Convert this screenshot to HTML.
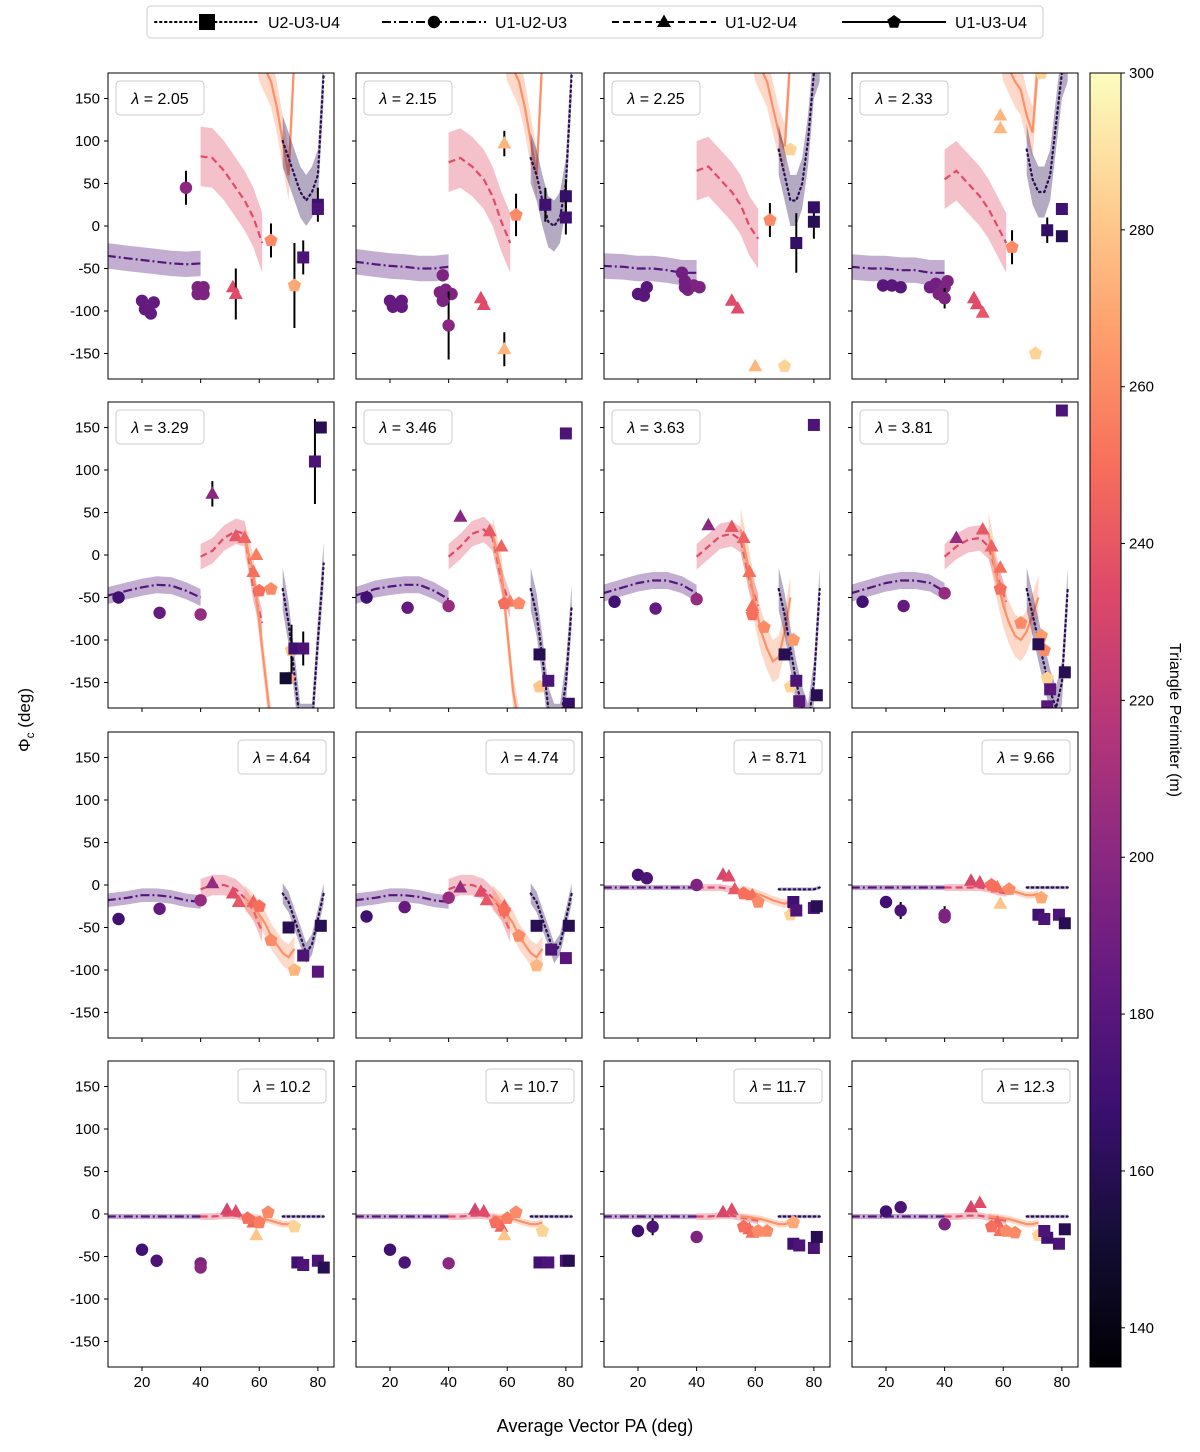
<!DOCTYPE html>
<html><head><meta charset="utf-8"><style>
body{margin:0;background:#fff}
svg{display:block;font-family:"Liberation Sans","DejaVu Sans",sans-serif}
</style></head><body>
<svg id="fig" width="1200" height="1452" viewBox="0 0 1200 1452" xmlns="http://www.w3.org/2000/svg"></svg>
<script>
const lambdas=["2.05","2.15","2.25","2.33","3.29","3.46","3.63","3.81","4.64","4.74","8.71","9.66","10.2","10.7","11.7","12.3"];
// markers: [PA, phi, perimeter, type(s=square,c=circle,t=triangle,p=pentagon), err]
const m1=[[35,45,200,'c',20],[20,-88,185,'c'],[21,-98,185,'c'],[24,-90,185,'c'],[23,-103,185,'c'],[39,-72,195,'c'],[41,-80,195,'c'],[41,-72,195,'c'],[39,-80,195,'c'],[51,-72,235,'t'],[52,-80,235,'t',30],[64,-17,260,'p',20],[72,-70,270,'p',50],[75,-37,175,'s',20],[80,25,170,'s',20],[80,20,175,'s']];
const m2=[[20,-88,185,'c'],[21,-95,185,'c'],[24,-88,185,'c'],[24,-95,185,'c'],[38,-58,195,'c'],[39,-75,195,'c'],[37,-78,195,'c'],[41,-80,195,'c'],[40,-117,200,'c',40],[38,-88,195,'c'],[51,-85,235,'t'],[52,-93,235,'t'],[59,97,275,'t',15],[59,-145,275,'t',20],[63,13,260,'p',25],[73,25,170,'s',20],[80,35,165,'s',20],[80,10,170,'s',20]];
const m3=[[20,-80,180,'c'],[22,-82,180,'c'],[23,-72,180,'c'],[35,-55,190,'c'],[36,-65,190,'c'],[37,-75,195,'c'],[39,-70,195,'c'],[41,-72,195,'c'],[36,-72,190,'c'],[52,-88,235,'t'],[54,-97,235,'t'],[60,-165,275,'t'],[65,7,260,'p',20],[72,90,285,'p'],[70,-165,285,'p'],[74,-20,165,'s',35],[80,5,160,'s',20],[80,22,165,'s']];
const m4=[[19,-70,180,'c'],[22,-70,180,'c'],[25,-72,180,'c'],[35,-72,190,'c'],[37,-68,190,'c'],[40,-72,195,'c'],[38,-80,195,'c'],[41,-65,195,'c'],[40,-85,195,'c',12],[50,-85,235,'t'],[51,-92,235,'t'],[53,-102,240,'t'],[59,130,275,'t'],[59,115,275,'t'],[63,-25,260,'p',20],[71,-150,285,'p'],[73,180,285,'p'],[75,-5,165,'s',15],[80,-12,160,'s'],[80,20,170,'s']];
const m5=[[12,-50,170,'c'],[26,-68,185,'c'],[40,-70,205,'c'],[44,72,200,'t',15],[52,22,240,'t'],[55,20,245,'t'],[59,0,255,'t'],[58,-20,250,'t'],[60,-42,250,'p'],[64,-40,260,'p'],[71,-112,280,'p',30],[70,-145,270,'p'],[72,-110,170,'s'],[75,-110,175,'s',20],[79,110,175,'s',50],[81,150,160,'s'],[69,-145,150,'s']];
const m6=[[12,-50,170,'c'],[26,-62,185,'c'],[40,-60,205,'c'],[44,45,200,'t'],[54,28,240,'t'],[58,10,245,'t'],[61,-55,255,'t'],[59,-57,250,'p'],[64,-57,260,'p'],[71,-155,280,'p'],[71,-117,160,'s'],[74,-148,175,'s'],[80,143,175,'s'],[81,-175,165,'s']];
const m7=[[12,-55,170,'c'],[26,-63,185,'c'],[40,-52,205,'c'],[44,35,200,'t'],[52,33,240,'t'],[56,20,245,'t'],[58,-20,250,'t'],[59,-60,250,'t'],[59,-70,250,'p'],[63,-85,260,'p'],[73,-100,265,'p'],[72,-155,285,'p'],[70,-117,160,'s'],[74,-148,175,'s'],[75,-172,180,'s'],[80,153,175,'s'],[81,-165,160,'s']];
const m8=[[12,-55,170,'c'],[26,-60,185,'c'],[40,-45,205,'c'],[44,20,205,'t'],[53,30,240,'t'],[56,10,245,'t'],[59,-15,250,'t'],[59,-40,250,'p'],[66,-80,260,'p'],[73,-95,265,'p'],[74,-112,260,'p'],[75,-145,285,'p'],[75,-178,180,'s'],[76,-158,180,'s'],[80,170,175,'s'],[81,-138,160,'s'],[72,-105,160,'s']];
const m9=[[12,-40,170,'c'],[26,-28,185,'c'],[40,-18,205,'c'],[44,2,205,'t'],[51,-10,235,'t'],[53,-20,240,'t'],[58,-20,245,'t'],[60,-25,250,'p'],[64,-65,260,'p'],[72,-100,275,'p'],[70,-50,160,'s'],[75,-83,175,'s'],[80,-102,180,'s'],[81,-48,160,'s']];
const m10=[[12,-37,170,'c'],[25,-26,185,'c'],[40,-15,205,'c'],[44,-3,205,'t'],[51,-8,235,'t'],[53,-18,240,'t'],[59,-25,245,'t'],[59,-30,250,'p'],[64,-60,260,'p'],[70,-95,275,'p'],[70,-48,160,'s'],[75,-76,175,'s'],[80,-86,180,'s'],[81,-48,160,'s']];
const m11=[[20,12,170,'c'],[23,8,175,'c'],[40,0,195,'c'],[49,12,230,'t'],[51,10,235,'t'],[53,-5,240,'t'],[59,-12,250,'t'],[56,-10,250,'p'],[61,-20,260,'p'],[72,-35,285,'p'],[73,-25,270,'p'],[73,-20,170,'s'],[74,-30,175,'s'],[80,-27,175,'s'],[81,-25,160,'s']];
const m12=[[20,-20,170,'c'],[25,-30,175,'c',10],[40,-35,195,'c',10],[40,-38,195,'c'],[49,5,230,'t'],[52,3,235,'t'],[58,-3,250,'t'],[59,-22,280,'t'],[56,0,250,'p'],[62,-5,260,'p'],[73,-15,270,'p'],[72,-35,170,'s'],[74,-40,175,'s'],[79,-35,175,'s'],[81,-45,160,'s']];
const m13=[[20,-42,170,'c'],[25,-55,175,'c'],[40,-58,195,'c'],[40,-63,200,'c'],[49,5,230,'t'],[52,3,235,'t'],[58,-10,245,'t'],[59,-25,280,'t'],[56,-5,250,'p'],[60,-10,255,'p'],[63,2,260,'p'],[72,-15,285,'p'],[73,-57,170,'s'],[75,-60,175,'s'],[80,-55,175,'s'],[82,-63,160,'s']];
const m14=[[20,-42,170,'c'],[25,-57,175,'c'],[40,-58,200,'c'],[49,5,230,'t'],[52,3,235,'t'],[58,-15,245,'t'],[59,-25,280,'t'],[56,-10,250,'p'],[60,-5,255,'p'],[63,2,260,'p'],[72,-20,285,'p'],[71,-57,170,'s'],[74,-57,175,'s'],[80,-55,175,'s'],[81,-55,160,'s']];
const m15=[[20,-20,170,'c'],[25,-15,175,'c',10],[40,-27,195,'c'],[49,2,230,'t'],[52,5,235,'t'],[58,-18,245,'t'],[59,-22,250,'t'],[56,-15,250,'p'],[61,-20,260,'p'],[64,-20,260,'p'],[73,-10,270,'p'],[73,-35,170,'s'],[75,-37,175,'s'],[80,-40,175,'s'],[81,-27,160,'s']];
const m16=[[20,3,170,'c'],[25,8,175,'c'],[40,-12,195,'c'],[49,8,230,'t'],[52,13,235,'t'],[58,-10,245,'t'],[59,-20,250,'t'],[56,-15,250,'p'],[61,-20,260,'p'],[64,-22,260,'p'],[72,-25,285,'p'],[75,-28,170,'s'],[74,-20,175,'s'],[79,-35,175,'s'],[81,-18,160,'s']];
const markers=[m1,m2,m3,m4,m5,m6,m7,m8,m9,m10,m11,m12,m13,m14,m15,m16];
// model curves: [style, xs, ys, band, perimeter]
const xsA=[8,15,20,25,30,35,40], xsB=[40,44,48,52,55,58,61], xsC=[55,58,60,62,64,66,68,70,72], xsD=[68,70,72,74,76,78,80,82];
const cA=[[-35,-38,-40,-42,-44,-45,-44],[-42,-45,-47,-48,-50,-50,-48],[-47,-48,-50,-50,-52,-55,-55],[-48,-50,-50,-52,-52,-55,-55],[-48,-42,-38,-35,-36,-42,-50],[-48,-40,-37,-35,-35,-42,-52],[-45,-38,-33,-30,-30,-35,-45],[-45,-38,-33,-30,-30,-33,-43],[-18,-15,-12,-12,-14,-18,-20],[-18,-15,-12,-12,-14,-18,-20],[-3,-3,-3,-3,-3,-3,-3],[-3,-3,-3,-3,-3,-3,-3],[-3,-3,-3,-3,-3,-3,-3],[-3,-3,-3,-3,-3,-3,-3],[-3,-3,-3,-3,-3,-3,-3],[-3,-3,-3,-3,-3,-3,-3]];
const bandA=[15,15,15,15,10,10,10,10,8,8,3,3,3,3,3,3];
const cB=[[82,80,65,45,30,10,-20],[75,80,70,55,35,5,-20],[65,70,55,40,25,0,-15],[55,65,50,35,20,0,-20],[-2,5,20,28,25,-40,-80],[-2,10,25,30,20,-30,-60],[-2,10,22,25,18,-30,-60],[-2,10,18,20,10,-25,-55],[-5,0,0,-5,-15,-30,-55],[-5,0,0,-5,-15,-30,-55],[-3,-3,-3,-5,-8,-12,-15],[-3,-3,-3,-3,-5,-8,-10],[-3,-3,-2,-2,-4,-6,-8],[-3,-3,-2,-2,-4,-6,-8],[-3,-3,-2,-2,-4,-6,-8],[-3,-3,-2,-2,-4,-6,-8]];
const bandB=[35,35,35,35,15,15,15,15,12,12,4,4,4,4,4,4];
const cC=[[260,240,200,185,170,140,100,60,200],[260,240,200,185,170,140,100,60,200],[260,240,200,185,170,140,110,90,200],[260,240,200,185,170,160,130,110,200],[20,-20,-80,-140,-200,-220,-220,-220,-220],[25,-20,-90,-160,-200,-220,-220,-220,-220],[30,-20,-60,-90,-110,-125,-120,-90,-50],[25,-30,-60,-80,-95,-100,-90,-70,-50],[-15,-25,-35,-45,-60,-70,-80,-85,-75],[-15,-25,-35,-45,-60,-70,-80,-85,-75],[-5,-8,-10,-12,-15,-18,-20,-22,-20],[-3,-4,-5,-6,-8,-10,-12,-12,-10],[-3,-4,-5,-6,-8,-10,-12,-12,-10],[-3,-4,-5,-6,-8,-10,-12,-12,-10],[-3,-4,-5,-6,-8,-10,-12,-12,-10],[-3,-4,-5,-6,-8,-10,-12,-12,-10]];
const bandC=[30,30,30,30,20,20,25,25,15,15,5,4,4,4,4,4];
const cD=[[100,80,60,40,30,40,60,180],[80,60,30,5,0,10,50,180],[90,60,30,30,50,100,180,200],[90,55,40,40,60,120,180,200],[-40,-80,-140,-200,-200,-200,-100,-10],[-40,-70,-120,-180,-200,-200,-150,-60],[-40,-70,-110,-150,-180,-200,-150,-40],[-40,-70,-100,-130,-160,-180,-150,-40],[-10,-20,-40,-60,-80,-70,-40,-10],[-10,-20,-40,-60,-80,-70,-40,-10],[-5,-5,-5,-5,-5,-5,-5,-3],[-3,-3,-3,-3,-3,-3,-3,-3],[-3,-3,-3,-3,-3,-3,-3,-3],[-3,-3,-3,-3,-3,-3,-3,-3],[-3,-3,-3,-3,-3,-3,-3,-3],[-3,-3,-3,-3,-3,-3,-3,-3]];
const bandD=[30,30,30,30,25,25,25,25,12,12,2,2,2,2,2,2];
const yTicks=[150,100,50,0,-50,-100,-150];
const xTicks=[20,40,60,80];
const cbTicks=[140,160,180,200,220,240,260,280,300];

const NS="http://www.w3.org/2000/svg";
const svg=document.getElementById('fig');
function el(tag,attrs,parent){const e=document.createElementNS(NS,tag);for(const k in attrs)e.setAttribute(k,attrs[k]);(parent||svg).appendChild(e);return e;}
const stops=[[0,0,0,4],[.1,20,14,54],[.2,59,15,112],[.3,100,26,128],[.4,140,41,129],[.5,183,55,121],[.6,222,73,104],[.7,247,112,92],[.8,254,159,109],[.9,254,207,146],[1,252,253,191]];
function magma(t){t=Math.max(0,Math.min(1,t));for(let i=1;i<stops.length;i++){if(t<=stops[i][0]){const a=stops[i-1],b=stops[i],f=(t-a[0])/(b[0]-a[0]);return`rgb(${Math.round(a[1]+f*(b[1]-a[1]))},${Math.round(a[2]+f*(b[2]-a[2]))},${Math.round(a[3]+f*(b[3]-a[3]))})`;}}return'rgb(252,253,191)';}
const VMIN=135,VMAX=300;
function col(p){return magma((p-VMIN)/(VMAX-VMIN));}
const lefts=[108,356,604,852],tops=[73,402,732,1061],W=226,H=306,XMIN=8.4,XMAX=85.5;
function shape(g,t,cx,cy,fill){let e;
 if(t==='s'){e=el('rect',{x:cx-6,y:cy-6,width:12,height:12,fill},g);}
 else if(t==='c'){e=el('circle',{cx,cy,r:6.2,fill},g);}
 else if(t==='t'){e=el('polygon',{points:`${cx},${cy-7.5} ${cx+7},${cy+5} ${cx-7},${cy+5}`,fill},g);}
 else{let pts=[];for(let k=0;k<5;k++){const a=-Math.PI/2+k*2*Math.PI/5;pts.push((cx+7*Math.cos(a)).toFixed(1)+','+(cy+7*Math.sin(a)).toFixed(1));}e=el('polygon',{points:pts.join(' '),fill},g);}
 return e;}
const dashes={A:'9 3 2 3',B:'7 4',C:'',D:'1.5 3.5'};
const curveCol={A:178,B:235,C:262,D:160};

for(let i=0;i<16;i++){
 const r=Math.floor(i/4),c=i%4,L=lefts[c],T=tops[r];
 const X=v=>L+(v-XMIN)/(XMAX-XMIN)*W, Y=v=>T+(180-v)/360*H;
 const g=el('g',{});
 
 
 const cp=el('clipPath',{id:'cp'+i},g);el('rect',{x:L,y:T,width:W,height:H},cp);
 const gc=el('g',{'clip-path':`url(#cp${i})`},g);
 const curves=[['A',xsA,cA[i],bandA[i]],['B',xsB,cB[i],bandB[i]],['C',xsC,cC[i],bandC[i]],['D',xsD,cD[i],bandD[i]]];
 curves.forEach(([k,xs,ys,bw])=>{
  const up=xs.map((x,j)=>X(x).toFixed(1)+','+Y(ys[j]+bw).toFixed(1));
  const lo=xs.map((x,j)=>X(x).toFixed(1)+','+Y(ys[j]-bw).toFixed(1)).reverse();
  const band=el('polygon',{points:up.concat(lo).join(' '),fill:col(curveCol[k]),opacity:0.35},gc);
  
  
  const ln=el('polyline',{points:xs.map((x,j)=>X(x).toFixed(1)+','+Y(ys[j]).toFixed(1)).join(' '),fill:'none',stroke:col(curveCol[k]),'stroke-width':2.2,'stroke-dasharray':dashes[k],'stroke-linecap':k==='D'?'round':'butt'},gc);
  
  
 });
 markers[i].forEach(mk=>{
  const [pa,phi,per,t,err]=mk;
  if(err){const eb=el('line',{x1:X(pa),x2:X(pa),y1:Y(phi+err),y2:Y(phi-err),stroke:'#000','stroke-width':2},gc);
   
   }
  const s=shape(gc,t,X(pa),Y(phi),col(per));
  
  
 });
 const fr=el('rect',{x:L,y:T,width:W,height:H,fill:'none',stroke:'#000','stroke-width':1},g);
 
 
 yTicks.forEach(v=>{el('line',{x1:L-4,x2:L,y1:Y(v),y2:Y(v),stroke:'#000'},g);
  if(c===0){const tx=el('text',{x:L-8,y:Y(v)+5,'text-anchor':'end','font-size':15,fill:'#000'},g);tx.textContent=v;
   
   }});
 xTicks.forEach(v=>{el('line',{x1:X(v),x2:X(v),y1:T+H,y2:T+H+4,stroke:'#000'},g);
  if(r===3){const tx=el('text',{x:X(v),y:T+H+20,'text-anchor':'middle','font-size':15,fill:'#000'},g);tx.textContent=v;
   
   }});
 const bw=88,bx=r<2?L+8:L+W-8-bw,by=T+8;
 const lb=el('rect',{x:bx,y:by,width:bw,height:34,rx:4,fill:'#fff',stroke:'#ccc'},g);
 
 
 const lt=el('text',{x:bx+bw/2,y:by+23,'text-anchor':'middle','font-size':16,fill:'#000'},g);
 lt.innerHTML='<tspan font-style="italic">λ</tspan> = '+lambdas[i];
 
 
}
// axis titles
const yt=el('text',{x:0,y:0,transform:'translate(30,720) rotate(-90)','text-anchor':'middle','font-size':17});
yt.innerHTML='Φ<tspan font-size="12" dy="4">c</tspan><tspan dy="-4"> (deg)</tspan>';


const xt=el('text',{x:595,y:1432,'text-anchor':'middle','font-size':18});xt.textContent='Average Vector PA (deg)';


// colorbar
const CB={x:1090,y:73,w:31,h:1294};
const defs=el('defs',{});const lg=el('linearGradient',{id:'cbg',x1:0,y1:1,x2:0,y2:0},defs);
for(let k=0;k<=10;k++)el('stop',{offset:k/10,'stop-color':magma(k/10)},lg);
const cbr=el('rect',{x:CB.x,y:CB.y,width:CB.w,height:CB.h,fill:'url(#cbg)',stroke:'#000'});


cbTicks.forEach(v=>{const yy=CB.y+CB.h-(v-VMIN)/(VMAX-VMIN)*CB.h;el('line',{x1:CB.x+CB.w,x2:CB.x+CB.w+4,y1:yy,y2:yy,stroke:'#000'});
 const tx=el('text',{x:CB.x+CB.w+8,y:yy+5,'font-size':15});tx.textContent=v;
 
 });
const ct=el('text',{x:0,y:0,transform:'translate(1170,720) rotate(90)','text-anchor':'middle','font-size':16});ct.textContent='Triangle Perimiter (m)';


// legend
const lgg=el('g',{});


el('rect',{x:147,y:6,width:896,height:32,rx:4,fill:'#fff',stroke:'#ccc'},lgg);
const legItems=[['D','s','U2-U3-U4',155],['A','c','U1-U2-U3',382],['B','t','U1-U2-U4',612],['C','p','U1-U3-U4',842]];
legItems.forEach(([k,t,lab,x0])=>{
 const it=el('g',{},lgg);
 
 
 el('line',{x1:x0,x2:x0+104,y1:22,y2:22,stroke:'#000','stroke-width':2,'stroke-dasharray':dashes[k],'stroke-linecap':k==='D'?'round':'butt'},it);
 const s=shape(it,t,x0+52,22,'#000');
 if(t==='s'){s.setAttribute('x',x0+44);s.setAttribute('y',14);s.setAttribute('width',16);s.setAttribute('height',16);}
 const tx=el('text',{x:x0+113,y:28,'font-size':16},it);tx.textContent=lab;
});
</script>
</body></html>
